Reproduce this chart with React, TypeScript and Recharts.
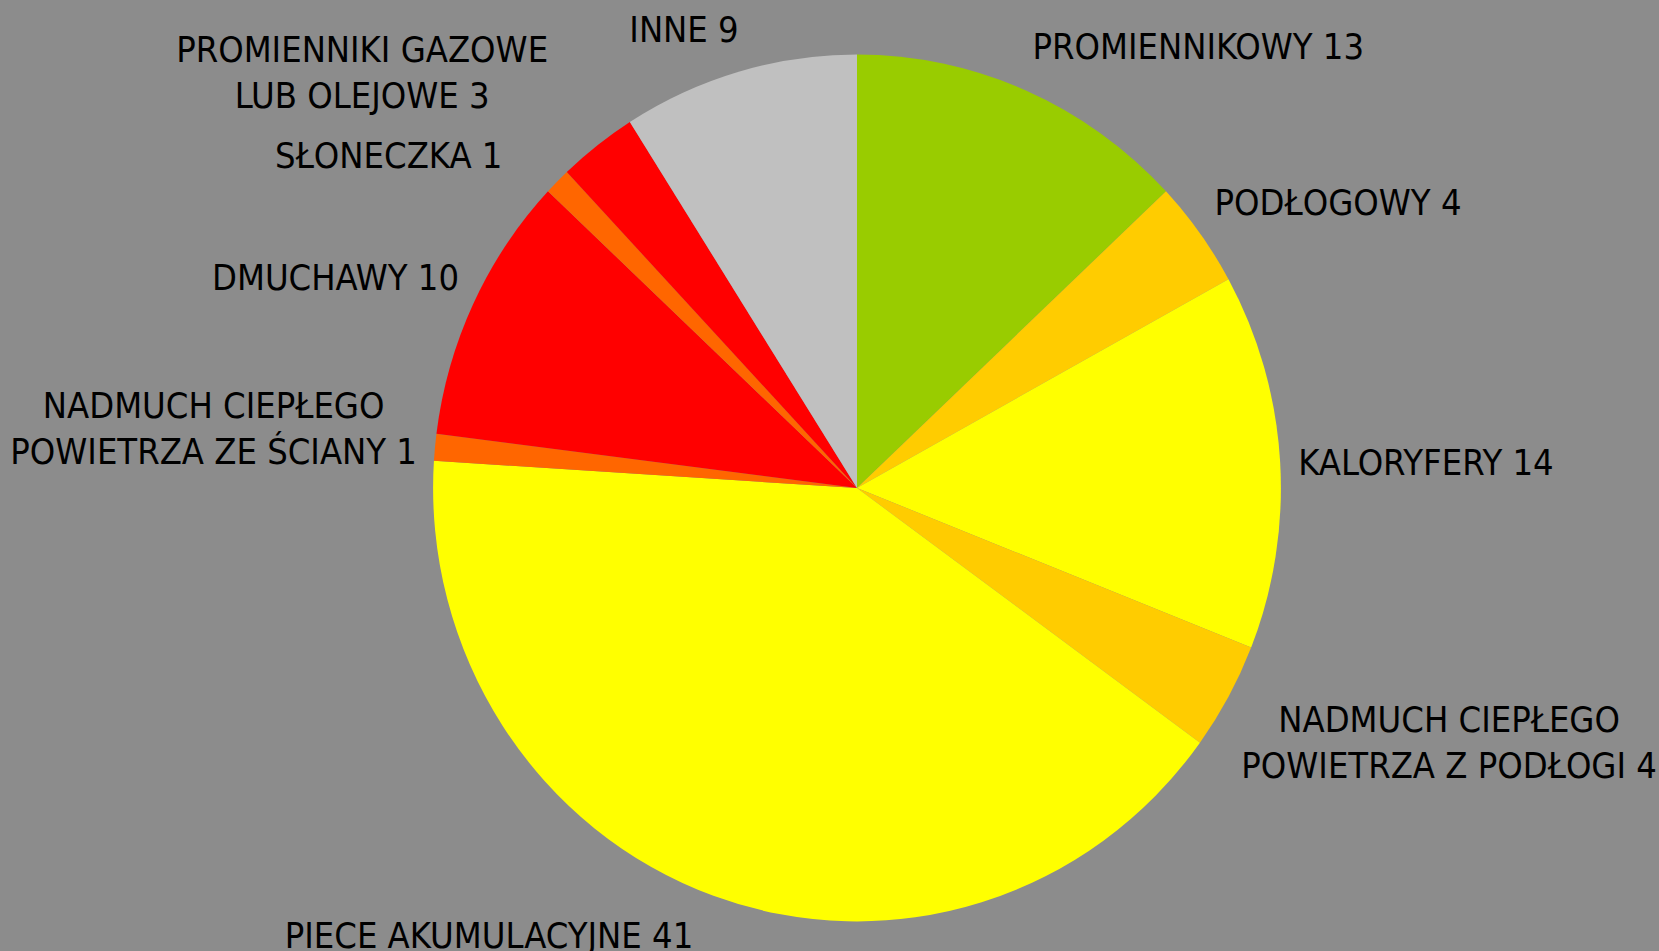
import React from 'react';
import { PieChart, Pie, Cell } from 'recharts';

const categories = [
  'PROMIENNIKOWY',
  'PODŁOGOWY',
  'KALORYFERY',
  'NADMUCH CIEPŁEGO\nPOWIETRZA Z PODŁOGI',
  'PIECE AKUMULACYJNE',
  'NADMUCH CIEPŁEGO\nPOWIETRZA ZE ŚCIANY',
  'DMUCHAWY',
  'SŁONECZKA',
  'PROMIENNIKI GAZOWE\nLUB OLEJOWE',
  'INNE',
];
const values = [13, 4, 14, 4, 41, 1, 10, 1, 3, 9];
const colors = ['#99CC00', '#FFCC00', '#FFFF00', '#FFCC00', '#FFFF00', '#FF6600', '#FF0000', '#FF6600', '#FF0000', '#C0C0C0'];

// small hand nudges so labels sit where the original's best-fit put them
const labelShift = [[0, -15], [0, -13], [0, 3], [-3, 19], [-14, 9], [0, -14], [2, -13], [-42, -4], [-38, -30], [5, -12]];

const data = categories.map((name, i) => ({ name, value: values[i] }));

const FONT = '"DejaVu Sans Condensed", "DejaVu Sans", sans-serif';
const FONT_SIZE = 36;
const LINE_H = 46;
const RAD = Math.PI / 180;
const CX = 857;
const CY = 488;

let ctx: CanvasRenderingContext2D | null = null;
function textWidth(s: string) {
  if (!ctx) {
    ctx = document.createElement('canvas').getContext('2d');
    if (ctx) {
      ctx.font = `${FONT_SIZE}px ${FONT}`;
      (ctx as any).fontStretch = 'condensed';
    }
  }
  return ctx ? ctx.measureText(s).width : s.length * FONT_SIZE * 0.55;
}

const renderLabel = (props: any) => {
  const { cx, cy, midAngle, outerRadius, index, name, value } = props;
  const lines = `${name} ${value}`.split('\n');
  const w = Math.max(...lines.map(textWidth));
  const h = lines.length * LINE_H;
  const s = Math.cos(midAngle * RAD);
  const c = Math.sin(midAngle * RAD);
  const r = outerRadius + 9;
  const px = cx + r * s;
  const py = cy - r * c;
  const [dx, dy] = labelShift[index] || [0, 0];
  const bx = px + (s >= 0 ? w / 2 : -w / 2) + dx;
  const by = py - (h / 2) * c + dy;
  const top = by - ((lines.length - 1) * LINE_H) / 2;
  return (
    <text
      key={`lbl-${index}`}
      x={bx}
      y={top}
      textAnchor="middle"
      fill="#000"
      fontSize={FONT_SIZE}
      fontFamily={FONT}
      style={{ fontStretch: 'condensed' }}
    >
      {lines.map((ln, i) => (
        <tspan key={i} x={bx} y={top + i * LINE_H + 13}>
          {ln}
        </tspan>
      ))}
    </text>
  );
};

export default function App() {
  return (
    <div style={{ position: 'absolute', left: 0, top: 0, width: 1659, height: 951, background: '#8C8C8C' }}>
      <style>{`.recharts-sector { transform-origin: ${CX}px ${CY}px; transform: scale(0.979, 1.001); }`}</style>
      <PieChart width={1659} height={951} margin={{ top: 0, right: 0, bottom: 0, left: 0 }}>
        <Pie
          data={data}
          dataKey="value"
          nameKey="name"
          cx={CX}
          cy={CY}
          outerRadius={433}
          startAngle={90}
          endAngle={-270}
          stroke="none"
          label={renderLabel}
          labelLine={false}
          isAnimationActive={false}
        >
          {data.map((d, i) => (
            <Cell key={d.name} fill={colors[i]} />
          ))}
        </Pie>
      </PieChart>
    </div>
  );
}
